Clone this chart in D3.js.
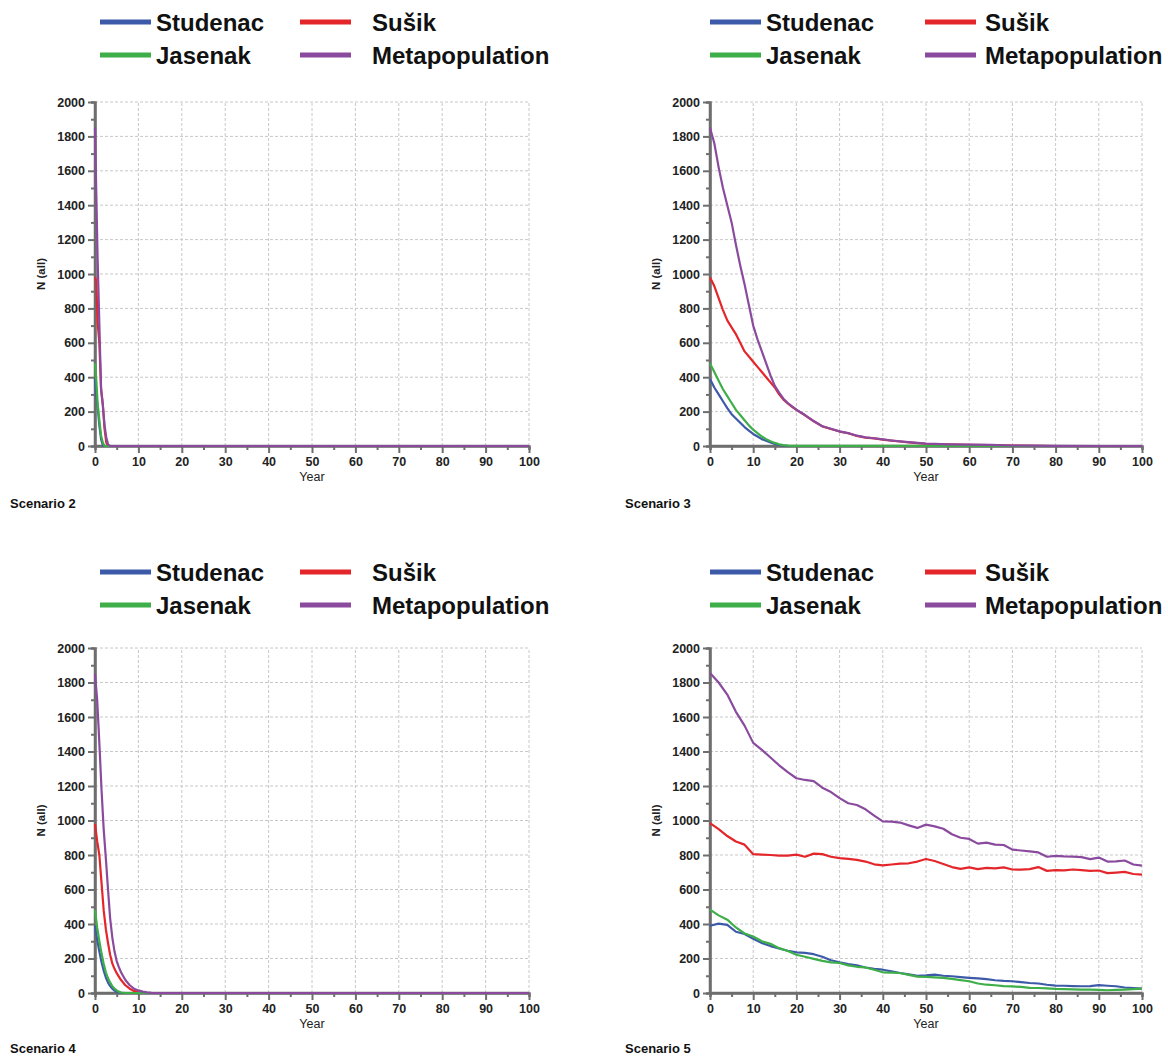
<!DOCTYPE html>
<html><head><meta charset="utf-8">
<script src="https://cdn.jsdelivr.net/npm/d3@7/dist/d3.min.js"></script>
<style>body{margin:0;background:#fff;}svg{display:block;font-family:"Liberation Sans",Arial,sans-serif;}</style>
</head><body>
<svg id="c" width="1168" height="1056"></svg>
<script>
const seriesNames = ["Studenac","Sušik","Jasenak","Metapopulation"];
const seriesColors = ["#3c5aa8","#e4262b","#3eae49","#8a4b9f"];
const xTicks = [0,10,20,30,40,50,60,70,80,90,100];
const yTicks = [0,200,400,600,800,1000,1200,1400,1600,1800,2000];
const scenarioLabels = ["Scenario 2","Scenario 3","Scenario 4","Scenario 5"];

// Scenario 2
const s2Years      = [0,0.3,0.6,1.0,1.4,1.8,2.2,2.6,3.0,3.5,100];
const s2Studenac   = [390,300,230,120,40,5,0,0,0,0,0];
const s2Susik      = [980,960,720,600,330,240,100,20,0,0,0];
const s2Jasenak    = [480,380,250,150,60,20,0,0,0,0,0];
const s2Meta       = [1850,1470,1090,710,330,240,120,50,10,0,0];

// Scenario 3
const s3Years      = [0,1,2,3,4,5,6,7,8,9,10,11,12,13,14,15,16,17,18,19,20,22,24,26,28,30,32,34,36,38,40,42,44,46,48,50,52,55,60,65,70,75,80,90,100];
const s3Studenac   = [390,340,300,260,220,185,160,135,110,90,70,55,40,30,20,12,6,3,1,0,0,0,0,0,0,0,0,0,0,0,0,0,0,0,0,0,0,0,0,0,0,0,0,0,0];
const s3Susik      = [980,930,860,790,730,690,650,600,550,520,490,460,430,400,370,340,300,270,248,228,210,178,144,114,99,84,74,59,49,44,37,31,26,21,17,13,11,9,7,5,2,1,0,0,0];
const s3Jasenak    = [480,430,380,330,290,250,210,180,150,120,95,75,55,40,28,18,10,5,2,1,1,1,1,1,1,1,1,1,1,1,1,1,1,1,1,1,0,0,0,0,0,0,0,0,0];
const s3Meta       = [1850,1760,1620,1500,1400,1300,1170,1050,940,820,700,620,550,480,410,350,310,275,250,230,211,180,145,115,100,85,75,60,50,45,38,32,27,22,18,14,12,10,8,6,3,2,1,0,0];

// Scenario 4
const s4Years      = [0,0.5,1,1.5,2,2.5,3,3.5,4,4.5,5,5.5,6,7,8,9,10,11,12,13,14,100];
const s4Studenac   = [390,310,240,180,130,90,60,40,25,14,7,3,0,0,0,0,0,0,0,0,0,0];
const s4Susik      = [980,880,800,640,480,370,290,220,170,140,115,95,75,45,25,12,6,2,0,0,0,0];
const s4Jasenak    = [480,380,300,230,170,120,85,60,40,25,15,8,3,0,0,0,0,0,0,0,0,0];
const s4Meta       = [1850,1700,1450,1180,950,780,600,430,320,240,185,150,120,75,45,25,15,8,4,1,0,0];

// Scenario 5
const s5Years      = d3.range(0,101,2);
const s5Studenac   = [390,402,395,355,342,315,290,272,258,245,236,233,225,210,190,178,168,160,148,140,135,125,116,108,100,102,106,100,97,92,88,85,80,74,70,68,63,58,55,48,43,42,40,39,40,46,42,39,32,28,25];
const s5Susik      = [985,950,910,878,860,805,802,800,796,796,802,790,808,805,790,782,778,772,762,746,740,745,750,752,762,777,765,748,730,720,728,718,725,722,728,716,715,718,730,708,712,711,716,712,708,710,695,698,702,690,686];
const s5Jasenak    = [483,450,425,380,345,328,300,285,260,243,222,210,198,186,178,174,160,152,148,135,120,118,116,105,95,93,91,88,82,75,68,55,48,45,40,38,35,30,29,27,24,23,21,20,19,18,16,18,20,22,25];
const s5Meta       = [1855,1800,1730,1630,1550,1450,1410,1365,1320,1280,1245,1235,1228,1190,1165,1130,1100,1090,1065,1028,995,993,988,972,957,976,966,952,920,900,893,866,872,860,858,831,826,821,815,790,795,792,791,788,776,785,762,763,768,745,738];

const scenarios = [
  {years:s2Years, series:[s2Studenac,s2Susik,s2Jasenak,s2Meta]},
  {years:s3Years, series:[s3Studenac,s3Susik,s3Jasenak,s3Meta]},
  {years:s4Years, series:[s4Studenac,s4Susik,s4Jasenak,s4Meta]},
  {years:s5Years, series:[s5Studenac,s5Susik,s5Jasenak,s5Meta]}
];

const panels = [
  {x0:95, x1:529, yTop:102, yBot:446, legX:100, legY:22, labY:508},
  {x0:710, x1:1142, yTop:102, yBot:446, legX:710, legY:22, labY:508},
  {x0:95, x1:529, yTop:648, yBot:993, legX:100, legY:572, labY:1053},
  {x0:710, x1:1142, yTop:648, yBot:993, legX:710, legY:572, labY:1053}
];

const svg = d3.select("#c");

panels.forEach((p,i)=>{
  const sc = scenarios[i];
  const g = svg.append("g");
  const x = d3.scaleLinear().domain([0,100]).range([p.x0,p.x1]);
  const y = d3.scaleLinear().domain([0,2000]).range([p.yBot,p.yTop]);

  // legend
  const legCols = [0, p.legX===100 ? 200 : 215];
  seriesNames.forEach((name,k)=>{
    const col = k%2, row = Math.floor(k/2);
    const lx = p.legX + legCols[col];
    const ly = p.legY + row*33;
    g.append("line").attr("x1",lx).attr("x2",lx+51).attr("y1",ly).attr("y2",ly)
      .attr("stroke",seriesColors[k]).attr("stroke-width",5);
    g.append("text").attr("x",lx+(col===0?56:(p.legX===100?72:60))).attr("y",ly+9)
      .attr("font-size",24).attr("font-weight","bold").attr("fill","#111").text(name);
  });

  // grid
  g.append("g").selectAll("line").data(xTicks.filter(d=>d>0)).join("line")
    .attr("x1",d=>x(d)).attr("x2",d=>x(d)).attr("y1",y(0)).attr("y2",y(2000))
    .attr("stroke","#c8c8c8").attr("stroke-width",1).attr("stroke-dasharray","3,2");
  g.append("g").selectAll("line").data(yTicks.filter(d=>d>0)).join("line")
    .attr("x1",x(0)).attr("x2",x(100)).attr("y1",d=>y(d)).attr("y2",d=>y(d))
    .attr("stroke","#c8c8c8").attr("stroke-width",1).attr("stroke-dasharray","3,2");

  // axes
  const xMinor = d3.range(5,100,10);
  const yMinor = d3.range(100,2000,200);
  const axColor = "#6e6e6e";
  const xa = g.append("g").attr("transform",`translate(0,${y(0)})`)
    .call(d3.axisBottom(x).tickValues(xTicks).tickSize(7).tickPadding(4).tickFormat(d3.format("d")));
  const xm = g.append("g").attr("transform",`translate(0,${y(0)})`)
    .call(d3.axisBottom(x).tickValues(xMinor).tickSize(4).tickFormat(""));
  const ya = g.append("g").attr("transform",`translate(${x(0)},0)`)
    .call(d3.axisLeft(y).tickValues(yTicks).tickSize(7).tickPadding(3).tickFormat(d3.format("d")));
  const ym = g.append("g").attr("transform",`translate(${x(0)},0)`)
    .call(d3.axisLeft(y).tickValues(yMinor).tickSize(4).tickFormat(""));
  [xa,xm,ya,ym].forEach(a=>{
    a.select(".domain").attr("stroke",axColor).attr("stroke-width",2.5);
    a.selectAll(".tick line").attr("stroke",axColor).attr("stroke-width",2);
    a.selectAll("text").attr("font-size",12.5).attr("font-weight","bold").attr("fill","#222")
      .attr("font-family","\"Liberation Sans\",Arial,sans-serif");
  });
  xa.select(".domain").attr("d",`M${x(0)},0H${x(100)}`);
  ya.select(".domain").attr("d",`M0,${y(0)}V${y(2000)}`);

  // lines
  const line = d3.line().x((d,j)=>x(sc.years[j])).y(d=>y(d));
  sc.series.forEach((vals,k)=>{
    g.append("path").datum(vals).attr("d",line).attr("fill","none")
      .attr("stroke",seriesColors[k]).attr("stroke-width",2.2).attr("stroke-linejoin","round");
  });

  // axis labels
  g.append("text").attr("transform",`translate(${x(0)-50},${(y(0)+y(2000))/2}) rotate(-90)`)
    .attr("text-anchor","middle").attr("font-size",11.5).attr("font-weight","bold").attr("fill","#222").text("N (all)");
  g.append("text").attr("x",(x(0)+x(100))/2).attr("y",y(0)+35).attr("text-anchor","middle")
    .attr("font-size",12.5).attr("fill","#222").text("Year");
  g.append("text").attr("x",p.x0-85).attr("y",p.labY).attr("font-size",13).attr("font-weight","bold")
    .attr("fill","#111").text(scenarioLabels[i]);
});
</script>
</body></html>
